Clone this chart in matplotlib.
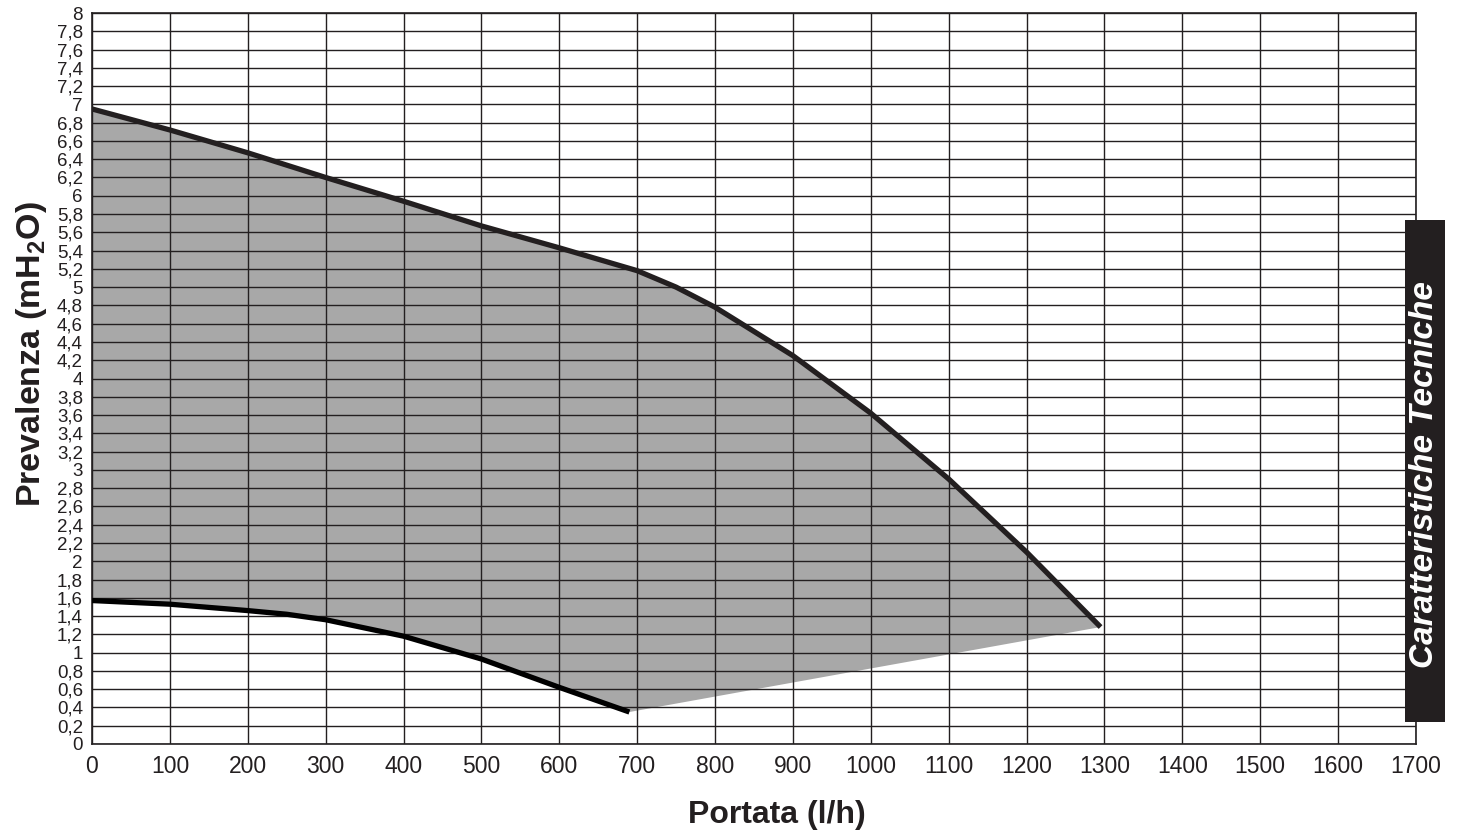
import matplotlib
matplotlib.use("Agg")
import matplotlib.pyplot as plt
import numpy as np

# Data
upper_x = [0, 100, 200, 300, 400, 500, 600, 700, 750, 800, 900, 1000, 1100, 1200, 1295]
upper_y = [6.95, 6.72, 6.47, 6.20, 5.94, 5.67, 5.43, 5.18, 5.00, 4.78, 4.25, 3.62, 2.90, 2.10, 1.28]
lower_x = [0, 100, 200, 250, 300, 400, 500, 600, 690]
lower_y = [1.57, 1.53, 1.46, 1.42, 1.36, 1.18, 0.93, 0.62, 0.35]
x_ticks = list(range(0, 1701, 100))
y_ticks = [round(v * 0.2, 1) for v in range(0, 41)]
y_labels = [("%g" % v).replace(".", ",") for v in y_ticks]

plt.rcParams['font.family'] = ['Liberation Sans', 'DejaVu Sans']

W, H = 1459, 835
fig = plt.figure(figsize=(W / 100, H / 100), dpi=100)
L, R, T, B = 92, 1416, 13, 744
ax = fig.add_axes([L / W, 1 - B / H, (R - L) / W, (B - T) / H])

# fill region
poly_x = upper_x + [lower_x[-1]] + lower_x[::-1]
poly_y = upper_y + [lower_y[-1]] + lower_y[::-1]
ax.fill(poly_x, poly_y, color='#a8a8a8', lw=0, zorder=1)

ax.set_xlim(0, 1700)
ax.set_ylim(0, 8)
ax.set_xticks(x_ticks)
ax.set_yticks(y_ticks)
ax.set_xticklabels([str(v) for v in x_ticks], fontsize=16.5, color='#231f20')
ax.set_yticklabels(y_labels, fontsize=13.5, color='#231f20')
ax.tick_params(length=0)
ax.tick_params(axis='y', pad=6.5)
ax.tick_params(axis='x', pad=8)
ax.grid(True, color='#231f20', lw=1.0, zorder=2)
ax.set_axisbelow(False)
for s in ax.spines.values():
    s.set_color('#231f20')
    s.set_linewidth(1.2)

ax.plot(upper_x, upper_y, color='#231f20', lw=3.8, solid_capstyle='butt', zorder=4)
ax.plot(lower_x, lower_y, color='#000000', lw=3.8, solid_capstyle='butt', zorder=4)

fig.text(777 / W, 1 - 823 / H, 'Portata (l/h)', fontsize=23, fontweight='bold',
         color='#231f20', ha='center', va='baseline')
fig.text(40 / W, 1 - 354 / H, r'Prevalenza (mH$_\mathregular{2}$O)', fontsize=24.5,
         fontweight='bold', color='#231f20', ha='center', va='baseline',
         rotation=90, rotation_mode='anchor')

# side box
box = fig.add_axes([1405 / W, 1 - 722 / H, 40 / W, 502 / H])
box.set_facecolor('#231f20')
box.set_xticks([]); box.set_yticks([])
for s in box.spines.values():
    s.set_visible(False)
box.text(0.48, 0.494, 'Caratteristiche Tecniche', rotation=90, color='white',
         fontsize=24, fontweight='bold', fontstyle='italic', ha='center', va='center',
         transform=box.transAxes)

fig.savefig('out.png', dpi=100)
